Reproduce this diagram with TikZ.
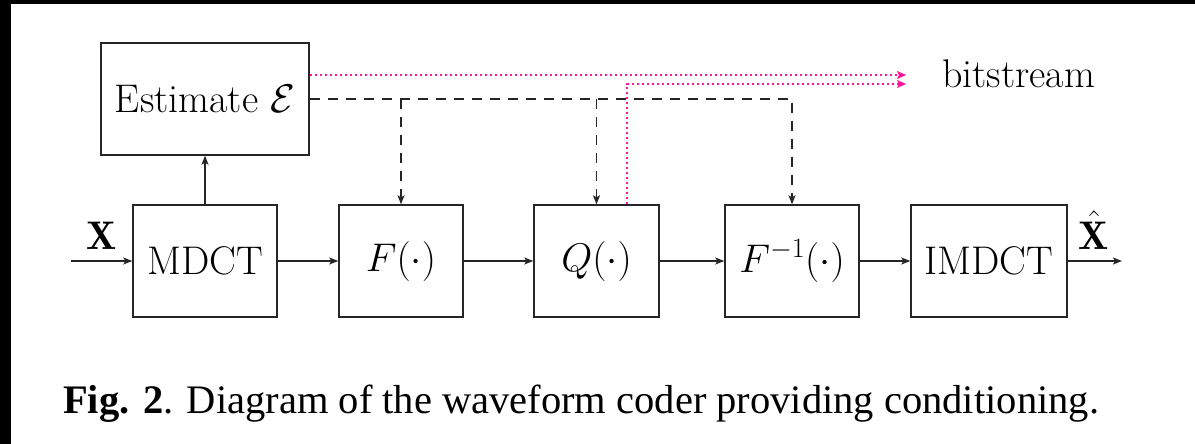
\RequirePackage{fix-cm}
\documentclass[tikz,border=0pt]{standalone}
\usepackage{fontspec}
\newfontfamily\capfont{Liberation Serif}
\usetikzlibrary{arrows.meta}
\definecolor{bitpink}{RGB}{255,20,150}
\begin{document}
\begin{tikzpicture}[x=1pt,y=-1pt,
  txt/.style={font=\fontsize{40}{48}\selectfont},
  blk/.style={txt, draw=black!85, line width=1.4pt, minimum height=112pt, inner sep=0pt},
  sig/.style={line width=1.4pt, draw=black!85, -{Stealth[length=9pt,width=7pt,inset=2pt]}},
  ctl/.style={line width=1.4pt, draw=black!85, dash pattern=on 10pt off 8pt, -{Stealth[length=9pt,width=7pt,inset=2pt]}},
  bits/.style={draw=bitpink, line width=2pt, dash pattern=on 2.5pt off 2.5pt, -{Stealth[length=9pt,width=8pt,inset=2pt]}},
  ]
\fill[black] (0,0) rectangle (1195,444);
\fill[white] (11,4) rectangle (1195,444);
\useasboundingbox (0,0) rectangle (1195,444);

\node[blk, minimum width=208pt] (est) at (205,99) {Estimate $\mathcal{E}$};
\node[blk, minimum width=144pt] (mdct) at (205,261) {MDCT};
\node[blk, minimum width=124pt] (f) at (401,261) {$F(\cdot)$};
\node[blk, minimum width=125pt] (q) at (596.5,261) {$Q(\cdot)$};
\node[blk, minimum width=134pt] (fi) at (792,261) {$F^{-1}(\cdot)$};
\node[blk, minimum width=156pt] (imdct) at (989,261) {IMDCT};

\coordinate (in) at (71,261);
\coordinate (out) at (1122,261);
\coordinate (bs1) at (906,75);
\coordinate (bs2) at (906,84);

\node[txt, anchor=base, inner sep=0pt] (xl) at (101.5,249) {$\mathbf{X}$};
\node[txt, anchor=base, inner sep=0pt] (xh) at (1094,249) {$\hat{\mathbf{X}}$};
\node[txt, anchor=base west, inner sep=0pt] (bs) at (942,88) {bitstream};

\draw[sig] (in) -- (mdct);
\draw[sig] (mdct) -- (f);
\draw[sig] (f) -- (q);
\draw[sig] (q) -- (fi);
\draw[sig] (fi) -- (imdct);
\draw[sig] (imdct) -- (out);
\draw[sig] (mdct) -- (est);

\draw[ctl] (est.east) -| (fi.north);
\draw[ctl] (f.north |- est.east) -- (f.north);
\draw[ctl] (q.north |- est.east) -- (q.north);

\draw[bits] (est.east |- bs1) -- (bs1);
\draw[bits] ([xshift=30.5pt]q.north) |- (bs2);

\node[anchor=base west, inner sep=0pt, font=\capfont\fontsize{40.5}{48}\selectfont] (cap) at (63,413) {\textbf{Fig. 2}. Diagram of the waveform coder providing conditioning.};
\end{tikzpicture}
\end{document}
